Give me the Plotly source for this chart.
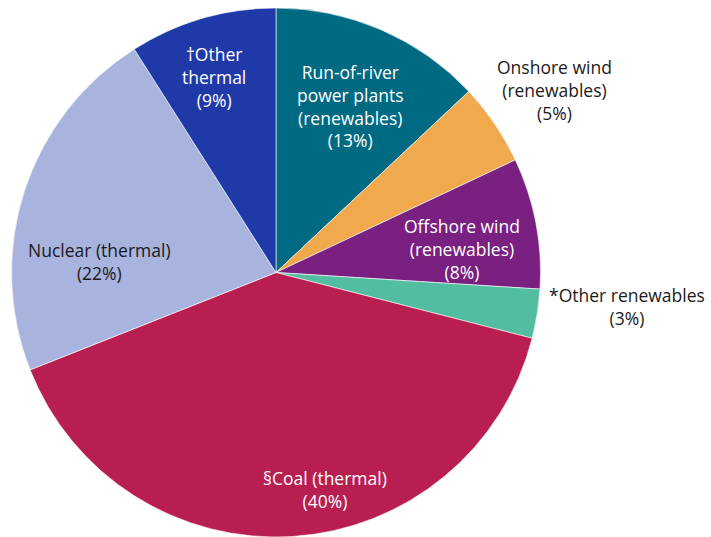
import plotly.graph_objects as go

# Electricity generation mix, share of total (%)
sources = [
    "Run-of-river<br>power plants<br>(renewables)",
    "Onshore wind<br>(renewables)",
    "Offshore wind<br>(renewables)",
    "*Other renewables",
    "§Coal (thermal)",
    "Nuclear (thermal)",
    "†Other<br>thermal",
]
shares = [13, 5, 8, 3, 40, 22, 9]
colors = ["#006a82", "#f0a94c", "#7a2080", "#52bda0", "#b81f50", "#a8b4de", "#1f3aa8"]

# Label anchor positions (paper coords) and text colours
label_x = [350, 554, 462, 627, 325, 99, 214]
label_y = [99, 83, 245, 303, 489, 257, 70]
label_color = ["white", "#1a1a1a", "white", "#1a1a1a", "white", "#1a1a1a", "white"]

W, H = 711, 537

fig = go.Figure(
    go.Pie(
        labels=sources,
        values=shares,
        sort=False,
        direction="clockwise",
        rotation=0,
        marker=dict(colors=colors, line=dict(color="white", width=0.6)),
        textinfo="none",
        hoverinfo="label+percent",
        domain=dict(x=[11.5 / W, 540.5 / W], y=[0, 1]),
        showlegend=False,
    )
)

for name, v, x, y, c in zip(sources, shares, label_x, label_y, label_color):
    fig.add_annotation(
        x=x / W,
        y=1 - y / H,
        xref="paper",
        yref="paper",
        text=f"{name}<br>({v}%)",
        showarrow=False,
        align="center",
        xanchor="center",
        yanchor="middle",
        font=dict(family="Open Sans", size=17.5, color=c),
    )

fig.update_layout(
    width=W,
    height=H,
    margin=dict(l=0, r=0, t=8, b=0),
    paper_bgcolor="white",
    plot_bgcolor="white",
)

fig.write_html("out.html")
